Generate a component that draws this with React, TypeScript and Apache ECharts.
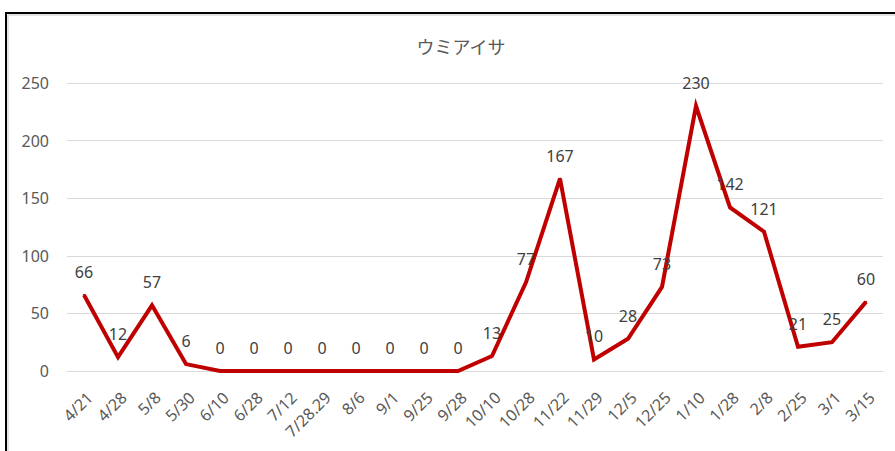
import React, { useEffect, useRef } from "react";
import * as echarts from "echarts";

const titleText = "ウミアイサ";
const categories = [
  "4/21", "4/28", "5/8", "5/30", "6/10", "6/28", "7/12", "7/28.29", "8/6", "9/1", "9/25", "9/28",
  "10/10", "10/28", "11/22", "11/29", "12/5", "12/25", "1/10", "1/28", "2/8", "2/25", "3/1", "3/15",
];
const counts = [66, 12, 57, 6, 0, 0, 0, 0, 0, 0, 0, 0, 13, 77, 167, 10, 28, 73, 230, 142, 121, 21, 25, 60];
const yMin = 0;
const yMax = 250;
const yStep = 50;

export default function App() {
  const ref = useRef<HTMLDivElement>(null);
  useEffect(() => {
    if (!ref.current) return;
    const chart = echarts.init(ref.current, null, { renderer: "svg" });
    const font = "'Noto Sans', 'Liberation Sans', sans-serif";
    chart.setOption({
      animation: false,
      backgroundColor: "#ffffff",
      title: {
        text: titleText,
        left: 456,
        top: 32,
        textAlign: "center",
        textStyle: {
          fontFamily: "'Noto Sans CJK JP', sans-serif",
          fontSize: 18,
          fontWeight: "normal",
          color: "#595959",
        },
      },
      graphic: [
        {
          type: "rect",
          shape: { x: 8, y: 15, width: 1000, height: 1000 },
          style: { fill: "none", stroke: "#c8c8c8", lineWidth: 1 },
          silent: true,
        },
        {
          type: "rect",
          shape: { x: 6, y: 13, width: 1000, height: 1000 },
          style: { fill: "none", stroke: "#000000", lineWidth: 2 },
          silent: true,
        },
      ],
      grid: { left: 67, right: 12, top: 83, bottom: 80, containLabel: false },
      xAxis: {
        type: "category",
        data: categories,
        boundaryGap: true,
        axisLine: { show: true, lineStyle: { color: "#d9d9d9", width: 1 } },
        axisTick: { show: false },
        axisLabel: {
          interval: 0,
          rotate: 45,
          margin: 18,
          verticalAlign: "top",
          fontFamily: font,
          fontSize: 16,
          color: "#595959",
        },
      },
      yAxis: {
        type: "value",
        min: yMin,
        max: yMax,
        interval: yStep,
        axisLine: { show: false },
        axisTick: { show: false },
        splitLine: { lineStyle: { color: "#d9d9d9", width: 1 } },
        axisLabel: { margin: 18, fontFamily: font, fontSize: 16, color: "#595959" },
      },
      series: [
        {
          type: "line",
          data: counts,
          symbol: "circle",
          symbolSize: 2,
          showSymbol: true,
          itemStyle: { color: "#C00000" },
          lineStyle: { color: "#C00000", width: 4, join: "miter" },
          label: {
            show: true,
            position: "top",
            distance: 14,
            fontFamily: font,
            fontSize: 16,
            color: "#404040",
          },
        },
      ],
    });
    return () => chart.dispose();
  }, []);
  return (
    <div
      ref={ref}
      style={{ position: "absolute", left: 0, top: 0, width: 895, height: 451 }}
    />
  );
}
